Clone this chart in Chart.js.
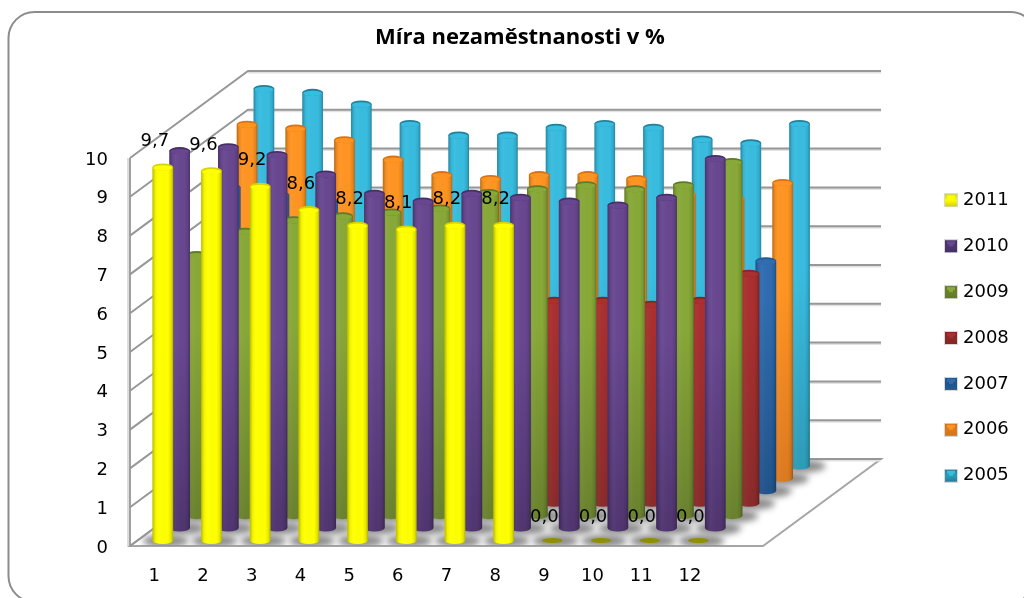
<!DOCTYPE html>
<html>
<head>
<meta charset="utf-8">
<style>
  html, body { margin: 0; background: #fff; }
  #wrap { width: 1024px; height: 598px; }
  canvas { filter: blur(0.5px); }
</style>
<script src="https://cdn.jsdelivr.net/npm/chart.js@4/dist/chart.umd.min.js"></script>
</head>
<body>
<div id="wrap"><canvas id="chart" width="1024" height="598"></canvas></div>
<script>
const categories = ["1", "2", "3", "4", "5", "6", "7", "8", "9", "10", "11", "12", ""];
const chartTitle = "Míra nezaměstnanosti v %";
const years = ["2011", "2010", "2009", "2008", "2007", "2006", "2005"];

const values2011 = [9.7, 9.6, 9.2, 8.6, 8.2, 8.1, 8.2, 8.2, 0, 0, 0, 0];
const values2010 = [9.8, 9.9, 9.7, 9.2, 8.7, 8.5, 8.7, 8.6, 8.5, 8.4, 8.6, 9.6];
const values2009 = [6.8, 7.4, 7.7, 7.8, 7.9, 8.0, 8.4, 8.5, 8.6, 8.5, 8.6, 9.2];
const values2008 = [6.1, 5.9, 5.7, 5.2, 5.0, 5.0, 5.3, 5.3, 5.3, 5.2, 5.3, 6.0];
const values2007 = [7.9, 7.7, 7.5, 7.1, 6.6, 6.6, 6.8, 6.7, 6.5, 6.3, 6.1, 6.0];
const values2006 = [9.2, 9.1, 8.8, 8.3, 7.9, 7.8, 7.9, 7.9, 7.8, 7.4, 7.3, 7.7];
const values2005 = [9.8, 9.7, 9.4, 8.9, 8.6, 8.6, 8.8, 8.9, 8.8, 8.5, 8.4, 8.9];
const seriesValues = [values2011, values2010, values2009, values2008, values2007, values2006, values2005];

// light / mid / dark per series
const palette = [
  ["#ffff00", "#ffff00", "#d4d400"],
  ["#684790", "#503570", "#46306a"],
  ["#88a838", "#6a822e", "#5f7a28"],
  ["#aa2f2f", "#8a2a2a", "#8a2424"],
  ["#2f6cb0", "#21548c", "#245a94"],
  ["#ff9422", "#dd7a20", "#d87412"],
  ["#38bcdf", "#2e9cb8", "#22809c"],
];

const DEPTH_X = 118, DEPTH_Y = -87;
const stepX = DEPTH_X / years.length, stepY = DEPTH_Y / years.length;
const RY = 3.5;

function legendIcon(c) {
  const cv = document.createElement("canvas");
  cv.width = 14; cv.height = 14;
  const g = cv.getContext("2d");
  g.fillStyle = "#d8d8d8";
  g.fillRect(0, 0, 14, 14);
  const grd = g.createLinearGradient(0, 1, 0, 13);
  grd.addColorStop(0, c[2]);
  grd.addColorStop(0.5, c[1]);
  grd.addColorStop(1, c[2]);
  g.fillStyle = grd;
  g.fillRect(1, 1, 12, 12);
  g.fillStyle = c[0];
  g.fillRect(3, 2, 8, 3);
  g.fillRect(5, 5, 4, 2);
  return cv;
}
const icons = palette.map(legendIcon);

function cylinder(ctx, x, top, base, w, c, floorY) {
  const l = x - w / 2, r = x + w / 2;
  ctx.beginPath();
  ctx.moveTo(l, top + RY);
  ctx.lineTo(l, base);
  ctx.ellipse(x, base, w / 2, RY, 0, Math.PI, 0, true);
  ctx.lineTo(r, top + RY);
  ctx.closePath();
  const v = ctx.createLinearGradient(0, floorY - 190, 0, floorY);
  v.addColorStop(0, c[0]);
  v.addColorStop(1, c[1]);
  ctx.fillStyle = v;
  ctx.fill();
  const h = ctx.createLinearGradient(l, 0, r, 0);
  h.addColorStop(0, "rgba(0,0,0,0.28)");
  h.addColorStop(0.14, "rgba(0,0,0,0.05)");
  h.addColorStop(0.3, "rgba(255,255,255,0.03)");
  h.addColorStop(0.74, "rgba(0,0,0,0)");
  h.addColorStop(0.9, "rgba(0,0,0,0.1)");
  h.addColorStop(1, "rgba(0,0,0,0.3)");
  ctx.fillStyle = h;
  ctx.fill();
  // cap
  ctx.beginPath();
  ctx.ellipse(x, top + RY, w / 2, RY, 0, 0, Math.PI * 2);
  ctx.fillStyle = c[2];
  ctx.fill();
  ctx.beginPath();
  ctx.ellipse(x, top + RY + 1, w / 2 - 1, RY - 0.8, 0, 0, Math.PI * 2);
  ctx.fillStyle = c[0];
  ctx.fill();
}

const roomPlugin = {
  id: "room",
  beforeDatasetsDraw(chart) {
    const ctx = chart.ctx, a = chart.chartArea, y = chart.scales.y;
    ctx.save();
    // outer frame
    ctx.strokeStyle = "#8c8c8c";
    ctx.lineWidth = 2;
    ctx.beginPath();
    ctx.roundRect(8.5, 12, 1028, 590, 26);
    ctx.stroke();

    // floor
    ctx.beginPath();
    ctx.moveTo(a.left, a.bottom);
    ctx.lineTo(a.right, a.bottom);
    ctx.lineTo(a.right + DEPTH_X, a.bottom + DEPTH_Y);
    ctx.lineTo(a.left + DEPTH_X, a.bottom + DEPTH_Y);
    ctx.closePath();
    ctx.fillStyle = "#fff";
    ctx.fill();
    ctx.strokeStyle = "#a6a6a6";
    ctx.lineWidth = 2;
    ctx.stroke();

    // side wall front edge
    ctx.strokeStyle = "#dcdcdc";
    ctx.lineWidth = 3;
    ctx.beginPath();
    ctx.moveTo(a.left - 1.5, a.top);
    ctx.lineTo(a.left - 1.5, a.bottom);
    ctx.stroke();
    ctx.strokeStyle = "#a0a0a0";
    ctx.lineWidth = 2;
    ctx.beginPath();
    ctx.moveTo(a.left, a.top);
    ctx.lineTo(a.left, a.bottom);
    ctx.stroke();

    // grid on side wall and back wall
    y.ticks.forEach((t) => {
      const py = y.getPixelForValue(t.value);
      ctx.strokeStyle = "#e2e2e2";
      ctx.lineWidth = 2;
      ctx.beginPath();
      ctx.moveTo(a.left + DEPTH_X, py + DEPTH_Y + 1.5);
      ctx.lineTo(a.right + DEPTH_X, py + DEPTH_Y + 1.5);
      ctx.stroke();
      ctx.strokeStyle = "#979797";
      ctx.lineWidth = 2;
      ctx.beginPath();
      ctx.moveTo(a.left, py);
      ctx.lineTo(a.left + DEPTH_X, py + DEPTH_Y);
      ctx.lineTo(a.right + DEPTH_X, py + DEPTH_Y);
      ctx.stroke();
    });

    // shadows on the floor
    ctx.beginPath();
    ctx.moveTo(a.left, a.bottom);
    ctx.lineTo(a.right, a.bottom);
    ctx.lineTo(a.right + DEPTH_X, a.bottom + DEPTH_Y);
    ctx.lineTo(a.left + DEPTH_X, a.bottom + DEPTH_Y);
    ctx.closePath();
    ctx.clip();
    ctx.filter = "blur(3px)";
    ctx.fillStyle = "#8e8e8e";
    for (let i = years.length - 1; i >= 0; i--) {
      chart.getDatasetMeta(i).data.forEach((el) => {
        ctx.beginPath();
        ctx.ellipse(el.x + stepX * (i + 0.5) + 3, el.base + stepY * (i + 0.5) + 1, 23, 6.5, 0, 0, Math.PI * 2);
        ctx.fill();
      });
    }
    ctx.filter = "none";
    ctx.restore();
  },
  beforeDatasetDraw(chart, args) {
    const i = args.index, ctx = chart.ctx;
    ctx.save();
    args.meta.data.forEach((el, n) => {
      const x = el.x + stepX * (i + 0.5);
      const base = el.base + stepY * (i + 0.5) + 0.7;
      const top = el.y + stepY * (i + 0.5);
      if (seriesValues[i][n] === 0) {
        ctx.beginPath();
        ctx.ellipse(x, base, el.width / 2, 2.6, 0, 0, Math.PI * 2);
        ctx.fillStyle = "#8f8f00";
        ctx.fill();
      } else {
        cylinder(ctx, x, top, base, el.width, palette[i], base);
      }
    });
    ctx.restore();
    return false; // default rectangle not wanted
  },
  afterDatasetsDraw(chart) {
    const ctx = chart.ctx;
    ctx.save();
    ctx.font = "18px 'DejaVu Sans'";
    ctx.fillStyle = "#000";
    ctx.textAlign = "center";
    ctx.textBaseline = "middle";
    chart.getDatasetMeta(0).data.forEach((el, n) => {
      const label = values2011[n].toFixed(1).replace(".", ",");
      ctx.fillText(label, el.x + stepX * 0.5 - 8, el.y + stepY * 0.5 - 22);
    });
    ctx.restore();
  },
  beforeLayout(chart) {
    const l = chart.legend;
    if (!l.fitWrapped) {
      const fit = l.fit;
      l.fit = function () { fit.call(this); this.width = 261; };
      l.fitWrapped = true;
    }
  },
  afterLayout(chart) {
    const l = chart.legend;
    l.left = 920.1; l.right = 1024;
    l.top = 163.4; l.bottom = 560;
  },
};

const myChart = new Chart(document.getElementById("chart"), {
  type: "bar",
  plugins: [roomPlugin],
  data: {
    labels: categories,
    datasets: years.map((year, i) => ({
      label: year,
      data: seriesValues[i],
      backgroundColor: palette[i][1],
      grouped: false,
      categoryPercentage: 1,
      barPercentage: 0.425,
    })),
  },
  options: {
    responsive: false,
    animation: false,
    layout: { padding: { left: 16, right: 0, top: 0, bottom: 0 } },
    plugins: {
      tooltip: { enabled: false },
      title: {
        display: true,
        text: chartTitle,
        color: "#000",
        font: { family: "'Open Sans'", weight: "bold", size: 22 },
        padding: { top: 25, bottom: 106.6 },
      },
      legend: {
        position: "right",
        align: "start",
        labels: {
          color: "#000",
          font: { family: "'DejaVu Sans'", size: 18 },
          usePointStyle: true,
          pointStyleWidth: 6,
          padding: 27.9,
          generateLabels: (chart) => chart.data.datasets.map((d, i) => ({
            text: d.label,
            datasetIndex: i,
            pointStyle: icons[i],
            fontColor: "#000",
            hidden: false,
          })),
        },
      },
    },
    scales: {
      x: {
        grid: { display: false, drawTicks: false },
        border: { display: false },
        ticks: { color: "#000", font: { family: "'DejaVu Sans'", size: 18 }, padding: 20, maxRotation: 0, autoSkip: false },
        afterFit: (s) => { s.height = 52; },
      },
      y: {
        min: 0,
        max: 10,
        grid: { display: false, drawTicks: false },
        border: { display: false },
        ticks: { stepSize: 1, color: "#000", font: { family: "'DejaVu Sans'", size: 18 }, padding: 22, labelOffset: 2 },
        afterFit: (s) => { s.width = 114; },
      },
    },
  },
});
</script>
</body>
</html>
